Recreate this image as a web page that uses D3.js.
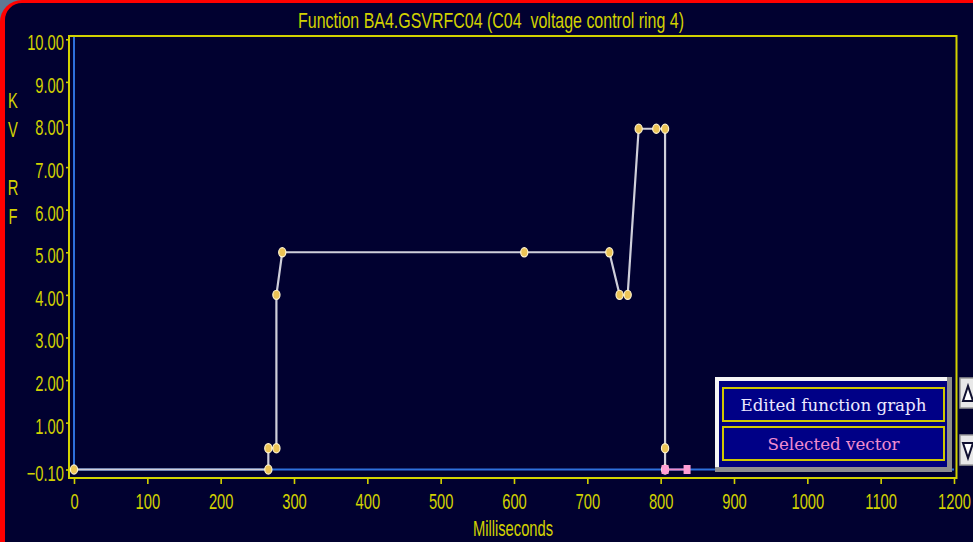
<!DOCTYPE html>
<html>
<head>
<meta charset="utf-8">
<script src="https://cdn.jsdelivr.net/npm/d3@7"></script>
<style>
  html, body { margin: 0; padding: 0; background: #5d7893; overflow: hidden; }
  svg { display: block; }
</style>
</head>
<body>
<svg id="chart" width="973" height="542"></svg>
<script>
// Function table: breakpoints of the ring voltage program
const timeMs  = [0, 265, 265, 276, 276, 284, 614, 730, 744, 755, 770, 794, 806, 806, 806];
const levelKV = [-0.1, -0.1, 0.4, 0.4, 4.0, 5.0, 5.0, 5.0, 4.0, 4.0, 7.9, 7.9, 7.9, 0.4, -0.1];

// Currently selected vector
const selectedMs = [806, 836];
const selectedKV = [-0.1, -0.1];

// Axis ticks
const xTicks = [0, 100, 200, 300, 400, 500, 600, 700, 800, 900, 1000, 1100, 1200];
const yTicks = [10, 9, 8, 7, 6, 5, 4, 3, 2, 1, -0.1];

// Texts
const titleText = "Function BA4.GSVRFC04 (C04  voltage control ring 4)";
const xTitle = "Milliseconds";
const yTitleLetters = ["K", "V", "", "R", "F"];
const legendItems = ["Edited function graph", "Selected vector"];

const BG = "#010130";
const YEL = "#d2d200";
const FONT = "'Liberation Sans', Arial, sans-serif";
const NARROW = 0.67;

const svg = d3.select("#chart");

// Window frame: red rounded border on a navy panel
svg.append("rect").attr("x", 0).attr("y", 0).attr("width", 1010).attr("height", 600)
  .attr("rx", 22).attr("fill", "#ff0000");
svg.append("rect").attr("x", 5).attr("y", 3).attr("width", 1010).attr("height", 600)
  .attr("rx", 17).attr("fill", BG);

const x = d3.scaleLinear().domain([0, 1200]).range([74, 954]);
const y = d3.scaleLinear().domain([-0.1, 10]).range([469.5, 39.3]);

const frame = { left: 69, top: 36, right: 956.5, bottom: 478 };

// Title
svg.append("text")
  .attr("x", 491).attr("y", 28)
  .attr("text-anchor", "middle")
  .attr("font-family", FONT).attr("font-size", 22)
  .attr("fill", YEL)
  .style("white-space", "pre")
  .attr("textLength", 386).attr("lengthAdjust", "spacingAndGlyphs")
  .text(titleText);

// Reference lines (blue): zero-time vertical and baseline
const refLine = [[0, 10.08], [0, -0.1], [1200, -0.1]];
svg.append("path")
  .datum(refLine)
  .attr("d", d3.line().x(d => x(d[0])).y(d => y(d[1])))
  .attr("fill", "none").attr("stroke", "#2e70dc").attr("stroke-width", 2);

// Plot frame
svg.append("path")
  .attr("d", `M${frame.left},${frame.bottom} L${frame.left},${frame.top} L${frame.right},${frame.top} L${frame.right},${frame.bottom} Z`)
  .attr("fill", "none").attr("stroke", YEL).attr("stroke-width", 2);

// X axis
const xAxis = svg.append("g")
  .attr("transform", `translate(0,${frame.bottom})`)
  .call(d3.axisBottom(x).tickValues(xTicks).tickSize(6).tickFormat(d3.format("d")));
xAxis.select(".domain").remove();
xAxis.selectAll(".tick line").attr("stroke", YEL).attr("stroke-width", 1.6);
xAxis.selectAll(".tick text")
  .attr("y", null).attr("dy", null)
  .attr("transform", `translate(0,31) scale(${NARROW},1)`)
  .attr("font-family", FONT).attr("font-size", 22).attr("fill", YEL);

// Y axis
const yAxis = svg.append("g")
  .attr("transform", `translate(${frame.left},0)`)
  .call(d3.axisLeft(y).tickValues(yTicks).tickSize(3).tickFormat(d3.format(".2f")));
yAxis.select(".domain").remove();
yAxis.selectAll(".tick line").attr("stroke", YEL).attr("stroke-width", 1.6);
yAxis.selectAll(".tick text")
  .attr("x", null).attr("dy", null)
  .attr("text-anchor", "end")
  .attr("transform", `translate(-5,10.5) scale(${NARROW},1)`)
  .attr("font-family", FONT).attr("font-size", 22).attr("fill", YEL);

// Axis titles
svg.append("text")
  .attr("transform", `translate(513,536) scale(${NARROW},1)`)
  .attr("text-anchor", "middle")
  .attr("font-family", FONT).attr("font-size", 22).attr("fill", YEL)
  .text(xTitle);

svg.append("g").selectAll("text")
  .data(yTitleLetters)
  .join("text")
  .attr("transform", (d, i) => `translate(13,${108 + i * 29}) scale(${NARROW},1)`)
  .attr("text-anchor", "middle")
  .attr("font-family", FONT).attr("font-size", 22).attr("fill", YEL)
  .text(d => d);

// Function graph
const pts = timeMs.map((t, i) => [t, levelKV[i]]);
svg.append("path")
  .datum(pts)
  .attr("d", d3.line().x(d => x(d[0])).y(d => y(d[1])))
  .attr("fill", "none").attr("stroke", "#cfcfda").attr("stroke-width", 2.2)
  .attr("stroke-linejoin", "round");

svg.append("g").selectAll("ellipse")
  .data(pts)
  .join("ellipse")
  .attr("cx", d => x(d[0])).attr("cy", d => y(d[1]))
  .attr("rx", 3.6).attr("ry", 4.6)
  .attr("fill", "#ecc456").attr("stroke", "#fff4cc").attr("stroke-width", 1.2);

// Selected vector
const sel = selectedMs.map((t, i) => [t, selectedKV[i]]);
svg.append("path")
  .datum(sel)
  .attr("d", d3.line().x(d => x(d[0])).y(d => y(d[1])))
  .attr("stroke", "#f08cc8").attr("stroke-width", 2);
svg.append("g").selectAll("rect")
  .data(sel)
  .join("rect")
  .attr("x", d => x(d[0]) - 3.5).attr("y", d => y(d[1]) - 4.5)
  .attr("width", 7).attr("height", 9)
  .attr("fill", "#ff9ed4");

// Legend panel with bevel
const lg = svg.append("g").attr("transform", "translate(715,377)");
lg.append("rect").attr("width", 237).attr("height", 95).attr("fill", "#8e8e8e");
lg.append("rect").attr("width", 232).attr("height", 90).attr("fill", "#f6f6f6");
lg.append("rect").attr("x", 4).attr("y", 4).attr("width", 228).attr("height", 86).attr("fill", "#00007e");

const legendColors = ["#ece8ff", "#f08cd0"];
const items = lg.selectAll("g.item")
  .data(legendItems)
  .join("g")
  .attr("class", "item")
  .attr("transform", (d, i) => `translate(8,${11 + i * 39})`);
items.append("rect")
  .attr("width", 221).attr("height", 33)
  .attr("fill", "#000086").attr("stroke", "#d0c800").attr("stroke-width", 2);
items.append("text")
  .attr("x", 110.5).attr("y", 23)
  .attr("text-anchor", "middle")
  .attr("font-family", "'DejaVu Serif', 'Liberation Serif', serif")
  .attr("font-size", 17)
  .attr("fill", (d, i) => legendColors[i])
  .attr("textLength", (d, i) => i === 0 ? 186 : 132)
  .attr("lengthAdjust", "spacingAndGlyphs")
  .text(d => d);

// Scroll buttons at the right edge
const arrows = [
  { y: 378, dir: "up" },
  { y: 435, dir: "down" }
];
const btn = svg.append("g").selectAll("g")
  .data(arrows)
  .join("g")
  .attr("transform", d => `translate(960,${d.y})`);
btn.append("rect").attr("width", 16).attr("height", 30)
  .attr("fill", "#e8e8e8").attr("stroke", "#9a9a9a").attr("stroke-width", 1.5);
btn.append("path")
  .attr("d", d => d.dir === "up" ? "M3,23 L8,8 L13,23 Z" : "M3,8 L8,23 L13,8 Z")
  .attr("fill", "#ffffff").attr("stroke", "#101030").attr("stroke-width", 2);
</script>
</body>
</html>
